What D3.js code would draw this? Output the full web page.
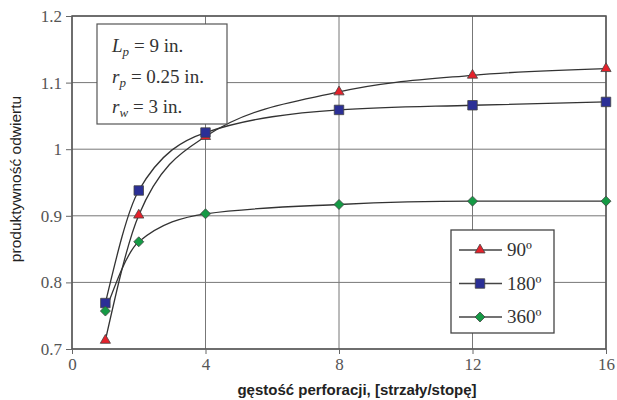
<!DOCTYPE html>
<html lang="pl">
  <head>
    <meta charset="utf-8">
    <title>Produktywność odwiertu</title>
    <script src="https://d3js.org/d3.v7.js"></script>
    <style>
      body { margin: 0; background: #fff; }
    </style>
  </head>

  <body>
    <script>
      // data
      const shots = [1, 2, 4, 8, 12, 16];
      const prod90 = [0.713, 0.901, 1.019, 1.086, 1.111, 1.121];
      const prod180 = [0.769, 0.938, 1.025, 1.059, 1.066, 1.071];
      const prod360 = [0.757, 0.861, 0.903, 0.917, 0.922, 0.922];
      const xTicks = [0, 4, 8, 12, 16];
      const yTicks = [0.7, 0.8, 0.9, 1.0, 1.1, 1.2];
      const seriesNames = ["90º", "180º", "360º"];
      const notes = [["L", "p", "= 9 in."], ["r", "p", "= 0.25 in."], ["r", "w", "= 3 in."]];

      const w = 617;
      const h = 400;
      const margin = { top: 16, right: 11, bottom: 51, left: 72 };
      const innerWidth = w - margin.left - margin.right;
      const innerHeight = h - margin.top - margin.bottom;
      const serif = "'Liberation Serif', 'Times New Roman', serif";
      const sans = "'Liberation Sans', Arial, sans-serif";

      const svg = d3.select("body")
        .append("svg")
        .attr("width", w)
        .attr("height", h);

      svg.append("rect")
        .attr("width", w)
        .attr("height", h)
        .attr("fill", "#fff");

      const xScale = d3.scaleLinear().domain([0, 16]).range([0, innerWidth]);
      const yScale = d3.scaleLinear().domain([0.7, 1.2]).range([innerHeight, 0]);

      const g = svg.append("g")
        .attr("transform", `translate(${margin.left}, ${margin.top})`);

      // grid
      g.append("g")
        .selectAll("line")
        .data(yTicks)
        .join("line")
        .attr("x1", 0)
        .attr("x2", innerWidth)
        .attr("y1", d => yScale(d))
        .attr("y2", d => yScale(d))
        .attr("stroke", "#777")
        .attr("stroke-width", 1);

      g.append("g")
        .selectAll("line")
        .data(xTicks)
        .join("line")
        .attr("x1", d => xScale(d))
        .attr("x2", d => xScale(d))
        .attr("y1", 0)
        .attr("y2", innerHeight)
        .attr("stroke", "#777")
        .attr("stroke-width", 1);

      g.append("rect")
        .attr("width", innerWidth)
        .attr("height", innerHeight)
        .attr("fill", "none")
        .attr("stroke", "#555")
        .attr("stroke-width", 1.5);

      // axes
      const xAxis = d3.axisBottom(xScale).tickValues(xTicks).tickSize(5).tickPadding(4)
        .tickFormat(d3.format("d"));
      const yAxis = d3.axisLeft(yScale).tickValues(yTicks).tickSize(6).tickPadding(4)
        .tickFormat(d => d === 1 ? "1" : d3.format(".1f")(d));

      const gx = g.append("g")
        .attr("transform", `translate(0, ${innerHeight})`)
        .call(xAxis);
      const gy = g.append("g").call(yAxis);

      [gx, gy].forEach(a => {
        a.select(".domain").remove();
        a.selectAll(".tick line").attr("stroke", "#666");
        a.selectAll(".tick text")
          .attr("fill", "#555")
          .style("font-family", serif)
          .style("font-size", "17px");
      });

      // axis titles
      svg.append("text")
        .attr("x", 357)
        .attr("y", 395)
        .attr("text-anchor", "middle")
        .style("font-family", sans)
        .style("font-size", "15px")
        .style("font-weight", "bold")
        .attr("fill", "#222")
        .text("gęstość perforacji, [strzały/stopę]");

      svg.append("text")
        .attr("transform", "translate(21, 179) rotate(-90)")
        .attr("text-anchor", "middle")
        .style("font-family", sans)
        .style("font-size", "15.5px")
        .attr("fill", "#222")
        .text("produktywność odwiertu");

      // curves
      const diamond = {
        draw(ctx, size) {
          const r = Math.sqrt(size / 2);
          ctx.moveTo(0, -r);
          ctx.lineTo(r, 0);
          ctx.lineTo(0, r);
          ctx.lineTo(-r, 0);
          ctx.closePath();
        }
      };

      const series = [
        { name: seriesNames[0], values: prod90, color: "#e5212b", shape: d3.symbolTriangle, size: 45 },
        { name: seriesNames[1], values: prod180, color: "#2b2f96", shape: d3.symbolSquare, size: 90 },
        { name: seriesNames[2], values: prod360, color: "#159a45", shape: diamond, size: 50 }
      ];

      const line = d3.line()
        .x(d => xScale(d[0]))
        .y(d => yScale(d[1]))
        .curve(d3.curveMonotoneX);

      series.forEach(s => {
        g.append("path")
          .datum(d3.zip(shots, s.values))
          .attr("d", line)
          .attr("fill", "none")
          .attr("stroke", "#333")
          .attr("stroke-width", 1.3);
      });

      series.forEach(s => {
        g.append("g")
          .selectAll("path")
          .data(d3.zip(shots, s.values))
          .join("path")
          .attr("transform", d => `translate(${xScale(d[0])}, ${yScale(d[1])})`)
          .attr("d", d3.symbol().type(s.shape).size(s.size))
          .attr("fill", s.color)
          .attr("stroke", "#444")
          .attr("stroke-width", 0.8);
      });

      // parameter box
      const note = svg.append("g");
      note.append("rect")
        .attr("x", 97)
        .attr("y", 24)
        .attr("width", 130)
        .attr("height", 100)
        .attr("fill", "#fff")
        .attr("stroke", "#555")
        .attr("stroke-width", 1.2);

      // each piece is its own text, placed after measuring the previous one
      notes.forEach((n, i) => {
        const y = 52 + i * 30.5;
        let x = 112;
        const sym = note.append("text")
          .attr("x", x).attr("y", y)
          .style("font-family", serif).style("font-size", "19px").style("font-style", "italic")
          .attr("fill", "#333")
          .text(n[0]);
        x += sym.node().getComputedTextLength();
        const sub = note.append("text")
          .attr("x", x).attr("y", y + 4)
          .style("font-family", serif).style("font-size", "13px").style("font-style", "italic")
          .attr("fill", "#333")
          .text(n[1]);
        x += sub.node().getComputedTextLength() + 5;
        note.append("text")
          .attr("x", x).attr("y", y)
          .style("font-family", serif).style("font-size", "19px")
          .attr("fill", "#333")
          .text(n[2]);
      });

      // legend
      const legend = svg.append("g");
      legend.append("rect")
        .attr("x", 451)
        .attr("y", 230)
        .attr("width", 103)
        .attr("height", 103)
        .attr("fill", "#fff")
        .attr("stroke", "#444")
        .attr("stroke-width", 1.3);

      series.forEach((s, i) => {
        const y = 250 + i * 33.5;
        legend.append("line")
          .attr("x1", 459)
          .attr("x2", 502)
          .attr("y1", y)
          .attr("y2", y)
          .attr("stroke", "#444")
          .attr("stroke-width", 1.3);
        legend.append("path")
          .attr("transform", `translate(480, ${y})`)
          .attr("d", d3.symbol().type(s.shape).size(s.size))
          .attr("fill", s.color)
          .attr("stroke", "#444")
          .attr("stroke-width", 0.8);
        legend.append("text")
          .attr("x", 507)
          .attr("y", y + 6)
          .style("font-family", serif)
          .style("font-size", "19px")
          .attr("fill", "#333")
          .text(s.name);
      });
    </script>
  </body>
</html>
